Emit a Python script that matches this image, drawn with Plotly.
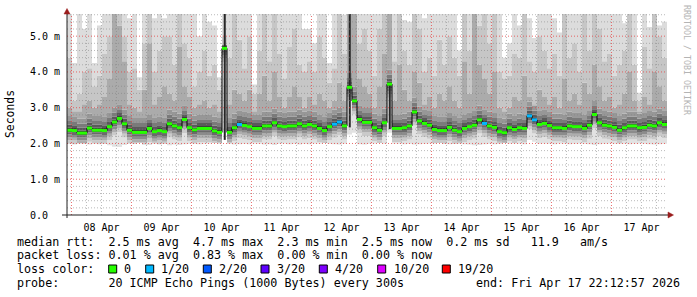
import numpy as np
import pandas as pd
import plotly.graph_objects as go

# ---------------- data (2-hour consolidated steps, values in ms) ----------------
START = "2026-04-07 22:12:57"
END = "2026-04-17 22:12:57"
STEP_HOURS = 2

median_ms = [
    2.37, 2.36, 2.29, 2.29, 2.43, 2.37, 2.37, 2.36, 2.47, 2.60, 2.70, 2.55,
    2.37, 2.31, 2.31, 2.31, 2.42, 2.33, 2.36, 2.33, 2.55, 2.49, 2.44, 2.67,
    2.44, 2.38, 2.42, 2.42, 2.42, 2.35, 2.31, 4.66, 2.31, 2.44, 2.53, 2.50,
    2.47, 2.42, 2.42, 2.49, 2.49, 2.58, 2.49, 2.47, 2.49, 2.49, 2.55, 2.49,
    2.53, 2.49, 2.42, 2.36, 2.47, 2.54, 2.60, 2.49, 3.57, 3.19, 2.67, 2.59,
    2.59, 2.44, 2.37, 2.58, 3.66, 2.42, 2.42, 2.44, 2.49, 2.88, 2.63, 2.56,
    2.51, 2.39, 2.36, 2.36, 2.45, 2.37, 2.33, 2.42, 2.47, 2.51, 2.66, 2.56,
    2.49, 2.45, 2.33, 2.30, 2.44, 2.39, 2.44, 2.42, 2.77, 2.66, 2.53, 2.56,
    2.50, 2.44, 2.44, 2.42, 2.49, 2.47, 2.47, 2.42, 2.51, 2.81, 2.58, 2.51,
    2.49, 2.45, 2.37, 2.44, 2.49, 2.49, 2.44, 2.45, 2.51, 2.49, 2.58, 2.53,
]

loss_20 = [
    0, 0, 0, 0, 0, 0, 0, 0, 0, 0, 0, 0,
    0, 0, 0, 0, 0, 0, 0, 0, 0, 0, 0, 0,
    0, 0, 0, 0, 0, 0, 0, 0, 0, 0, 1, 0,
    0, 0, 0, 0, 0, 0, 0, 0, 0, 0, 0, 0,
    0, 0, 0, 0, 0, 1, 1, 0, 0, 0, 0, 0,
    0, 0, 0, 0, 0, 0, 0, 0, 0, 0, 0, 0,
    0, 0, 0, 0, 0, 0, 0, 0, 0, 0, 0, 1,
    0, 0, 0, 0, 0, 0, 0, 0, 1, 1, 0, 0,
    0, 0, 0, 0, 0, 0, 0, 0, 0, 0, 0, 0,
    0, 0, 0, 0, 0, 0, 0, 0, 0, 0, 0, 0,
]

smoke_low = [
    1.99, 1.98, 2.00, 1.99, 1.97, 2.00, 1.98, 1.99, 1.95, 1.91, 1.90, 1.96,
    2.00, 1.99, 2.01, 1.97, 1.96, 2.00, 1.98, 1.99, 1.95, 1.97, 1.96, 1.98,
    1.99, 2.00, 1.98, 1.99, 2.00, 2.01, 2.00, 2.30, 2.00, 1.97, 1.98, 1.99,
    1.98, 2.00, 1.99, 1.97, 1.98, 1.96, 1.99, 2.00, 1.98, 1.99, 1.97, 1.99,
    1.98, 2.00, 2.00, 2.01, 1.99, 1.98, 1.97, 1.99, 2.25, 2.30, 1.98, 1.97,
    1.99, 2.00, 2.01, 1.99, 2.30, 2.00, 1.99, 1.98, 1.99, 1.97, 1.98, 1.99,
    2.00, 2.00, 2.01, 1.99, 1.98, 1.99, 2.00, 1.98, 1.97, 1.95, 1.96, 1.98,
    1.99, 1.98, 2.00, 2.01, 1.99, 2.00, 1.99, 1.98, 2.10, 2.05, 1.99, 2.00,
    1.99, 1.98, 2.00, 1.99, 1.98, 1.99, 2.00, 1.99, 1.98, 1.96, 1.98, 1.99,
    2.00, 1.99, 2.00, 1.99, 1.98, 1.99, 2.00, 1.99, 1.98, 1.97, 1.98, 1.99,
]

smoke_mid = [
    3.0, 2.9, 2.9, 3.1, 3.2, 3.0, 3.1, 3.3, 3.8, 5.7, 5.3, 4.3,
    3.1, 3.0, 2.9, 3.5, 4.8, 3.1, 3.3, 3.6, 3.4, 3.2, 4.7, 3.6,
    3.3, 3.0, 3.1, 3.2, 3.0, 3.1, 2.9, 4.75, 3.1, 3.5, 3.4, 3.2,
    3.5, 2.9, 3.4, 3.9, 3.2, 4.0, 3.3, 3.0, 3.3, 3.6, 3.3, 3.0,
    3.3, 3.1, 3.4, 3.2, 3.0, 3.2, 3.7, 3.2, 5.7, 5.7, 3.8, 3.6,
    3.4, 3.0, 3.6, 4.5, 5.7, 3.2, 4.2, 3.5, 3.2, 4.0, 3.7, 3.1,
    3.3, 3.0, 3.4, 3.2, 3.6, 3.2, 3.0, 4.3, 3.4, 5.7, 4.2, 3.8,
    3.4, 4.0, 3.0, 2.9, 3.0, 3.3, 3.2, 3.9, 3.3, 3.1, 3.5, 3.3,
    3.1, 3.3, 3.0, 3.8, 3.2, 3.4, 3.1, 3.7, 3.4, 4.2, 3.6, 3.2,
    3.3, 3.0, 3.1, 3.4, 4.0, 3.2, 2.9, 3.3, 3.1, 4.0, 3.6, 3.2,
]

smoke_upper = [
    4.4, 3.2, 3.4, 4.0, 4.1, 3.6, 3.9, 4.5, 5.0, 5.7, 5.7, 5.0,
    4.0, 4.1, 3.5, 4.8, 5.7, 4.0, 4.6, 5.0, 5.0, 4.2, 5.7, 4.8,
    4.4, 3.6, 4.0, 4.6, 3.9, 4.2, 3.5, 5.0, 4.4, 5.7, 4.9, 4.1,
    5.0, 3.4, 4.6, 5.7, 4.3, 5.7, 4.5, 3.8, 4.7, 5.2, 4.2, 4.0,
    4.3, 4.0, 5.0, 4.4, 3.7, 4.1, 5.7, 4.5, 5.7, 5.7, 4.8, 5.2,
    4.6, 3.9, 5.2, 5.7, 5.7, 4.3, 5.7, 4.6, 4.2, 5.7, 5.2, 4.0,
    4.4, 3.9, 4.9, 4.2, 5.0, 4.4, 3.9, 5.7, 4.6, 5.7, 5.3, 5.7,
    4.8, 5.7, 4.0, 3.8, 3.9, 4.5, 4.4, 5.7, 4.3, 4.0, 5.0, 4.6,
    4.1, 4.5, 3.9, 5.7, 4.4, 4.8, 4.0, 5.7, 4.6, 5.7, 5.2, 4.3,
    4.5, 3.9, 4.2, 4.6, 5.7, 4.2, 3.2, 4.7, 4.1, 5.7, 5.0, 4.4,
]

smoke_max = [
    5.7, 4.25, 5.7, 5.2, 5.7, 4.25, 5.3, 5.7, 5.7, 5.7, 5.7, 5.7,
    5.5, 5.7, 3.85, 5.7, 5.7, 5.5, 5.7, 5.5, 5.7, 5.7, 5.7, 5.7,
    5.7, 5.7, 5.0, 5.7, 5.4, 5.3, 3.85, 5.7, 5.7, 5.7, 5.7, 5.7,
    5.7, 3.65, 5.7, 5.7, 5.7, 5.7, 5.7, 5.7, 5.7, 5.7, 5.7, 5.2,
    5.2, 4.8, 5.7, 5.7, 4.25, 5.7, 5.7, 5.6, 5.7, 5.7, 5.7, 5.7,
    5.7, 5.7, 5.7, 5.7, 5.7, 5.7, 5.7, 5.45, 5.4, 5.7, 5.7, 5.5,
    5.7, 5.7, 5.7, 5.7, 5.7, 5.7, 4.6, 5.7, 5.7, 5.7, 5.7, 5.7,
    5.7, 5.7, 5.7, 4.4, 4.8, 5.7, 5.3, 5.7, 5.5, 4.95, 5.7, 5.7,
    5.7, 5.5, 5.1, 5.7, 5.7, 5.7, 5.7, 5.7, 5.7, 5.7, 5.7, 5.7,
    5.7, 5.7, 5.7, 5.36, 5.7, 5.7, 3.42, 5.7, 5.26, 5.7, 5.3, 5.4,
]

# dense dark smoke streaks (column index, bottom, top)
dark_cols = [31, 56, 64]
dark_low = [2.10, 2.45, 2.40]
dark_high = [5.70, 5.70, 3.66]

loss_levels = [0, 1, 2, 3, 4, 10, 19]
loss_labels = ["0", "1/20", "2/20", "3/20", "4/20", "10/20", "19/20"]
loss_colors = ["#26ff00", "#00b8ff", "#0059ff", "#5e00ff", "#7e00ff", "#dd00ff", "#ff0000"]

y_ticks = [0, 1, 2, 3, 4, 5]
y_ticktext = ["0.0\u00a0\u00a0", "1.0 m", "2.0 m", "3.0 m", "4.0 m", "5.0 m"]
Y_MAX = 5.62

legend_lines = [
    "median rtt:  2.5 ms avg  4.7 ms max  2.3 ms min  2.5 ms now  0.2 ms sd   11.9   am/s",
    "packet loss: 0.01 % avg  0.83 % max  0.00 % min  0.00 % now",
    "loss color:",
    "probe:       20 ICMP Echo Pings (1000 Bytes) every 300s",
]
end_text = "end: Fri Apr 17 22:12:57 2026"

# smoke shading style: offsets from the median (ms) and band greys
LOWER_OFFSETS = [0.38, 0.28, 0.20, 0.12, 0.06]          # below median
LOWER_SHADES = ["#e2e2e2", "#cacaca", "#aeaeae", "#8c8c8c", "#6a6a6a", "#4a4a4a"]
UPPER_OFFSETS = [0.07, 0.15, 0.26, 0.40]                 # above median
UPPER_SHADES = ["#3c3c3c", "#5a5a5a", "#7a7a7a", "#979797", "#ababab"]
TOP_SHADES = ["#c6c6c6", "#dcdcdc"]

# ---------------- geometry helpers ----------------
W, H = 697, 297
L, R, T, B = 67, 30, 14, 82
PW, PH = W - L - R, H - T - B


def px(x):
    return (x - L) / PW


def py(y):
    return (H - B - y) / PH


n = len(median_ms)
t0 = pd.Timestamp(START)
times = [t0 + pd.Timedelta(hours=STEP_HOURS * i) for i in range(n + 1)]


def ext(vals):
    vals = list(vals)
    return vals + [vals[-1]]


med = np.array(median_ms)
lo = np.array(smoke_low)
mid = np.array(smoke_mid)

edges = [lo]
for off in LOWER_OFFSETS:
    edges.append(np.clip(med - off, lo, med))
edges.append(med)
for off in UPPER_OFFSETS:
    edges.append(np.clip(med + off, med, mid))
edges.append(mid)
edges.append(np.array(smoke_upper))
edges.append(np.array(smoke_max))
shades = LOWER_SHADES + UPPER_SHADES + TOP_SHADES

fig = go.Figure()
common = dict(mode="lines", line=dict(width=0, shape="hv"), hoverinfo="skip", showlegend=False)
fig.add_trace(go.Scatter(x=times, y=ext(edges[0]), **common))
for e, col in zip(edges[1:], shades):
    fig.add_trace(go.Scatter(x=times, y=ext(e), fill="tonexty", fillcolor=col, **common))

# dark streaks
dx, dy = [], []
for c, dl, dh in zip(dark_cols, dark_low, dark_high):
    tc = times[c] + pd.Timedelta(hours=STEP_HOURS * 0.55)
    dx += [tc, tc, None]
    dy += [dl, dh, None]
fig.add_trace(go.Scatter(x=dx, y=dy, mode="lines", line=dict(color="#262626", width=2),
                         hoverinfo="skip", showlegend=False))

# grid (drawn over the smoke like rrdtool)
t_end = pd.Timestamp(END)
gx_minor, gy_minor, gx_major, gy_major = [], [], [], []
for tt in pd.date_range("2026-04-08 00:00", t_end, freq="6h"):
    if tt.hour == 0:
        gx_major += [tt, tt, None]; gy_major += [0, Y_MAX, None]
    else:
        gx_minor += [tt, tt, None]; gy_minor += [0, Y_MAX, None]
for k in range(1, int(Y_MAX / 0.2) + 1):
    v = round(k * 0.2, 2)
    if abs(v - round(v)) < 1e-6:
        gx_major += [t0, t_end, None]; gy_major += [v, v, None]
    else:
        gx_minor += [t0, t_end, None]; gy_minor += [v, v, None]
fig.add_trace(go.Scatter(x=gx_minor, y=gy_minor, mode="lines",
                         line=dict(color="rgba(130,130,130,0.55)", width=1, dash="1px,2px"),
                         hoverinfo="skip", showlegend=False))
fig.add_trace(go.Scatter(x=gx_major, y=gy_major, mode="lines",
                         line=dict(color="rgba(230,70,70,0.8)", width=1, dash="1px,2px"),
                         hoverinfo="skip", showlegend=False))

# median: black step connectors + coloured horizontal segments by loss
fig.add_trace(go.Scatter(x=times, y=ext(median_ms), mode="lines",
                         line=dict(color="#000000", width=1, shape="hv"),
                         hoverinfo="skip", showlegend=False))
for lvl, col in zip(loss_levels, loss_colors):
    sx, sy = [], []
    for i in range(n):
        if loss_20[i] == lvl:
            sx += [times[i], times[i + 1], None]
            sy += [median_ms[i], median_ms[i], None]
    if sx:
        fig.add_trace(go.Scatter(x=sx, y=sy, mode="lines", line=dict(color=col, width=3),
                                 hoverinfo="skip", showlegend=False))

MONO = "DejaVu Sans Mono"
fig.update_layout(
    width=W, height=H, margin=dict(l=L, r=R, t=T, b=B),
    paper_bgcolor="white", plot_bgcolor="white", showlegend=False,
)
fig.update_xaxes(
    type="date", range=[START, END], showgrid=False, zeroline=False, showline=False,
    tickmode="linear", tick0="2026-04-08", dtick=86400000, ticklabelmode="period",
    tickformat="%d %b", ticks="outside", ticklen=3, tickcolor="rgba(0,0,0,0)",
    tickfont=dict(family=MONO, size=10, color="#000"),
)
fig.update_yaxes(
    range=[0, Y_MAX], tickmode="array", tickvals=y_ticks, ticktext=y_ticktext,
    showgrid=False, zeroline=False, showline=False, ticks="outside", ticklen=4,
    tickcolor="rgba(0,0,0,0)", tickfont=dict(family=MONO, size=10, color="#000"),
)

shapes = []
AX = "#202020"
ARROW = "#9a1c1c"
shapes.append(dict(type="line", xref="paper", yref="paper", x0=px(67), x1=px(67), y0=py(218), y1=py(12),
                   line=dict(color=AX, width=1)))
shapes.append(dict(type="line", xref="paper", yref="paper", x0=px(62), x1=px(670), y0=py(215), y1=py(215),
                   line=dict(color=AX, width=1)))
shapes.append(dict(type="path", xref="paper", yref="paper",
                   path=f"M {px(67)} {py(8.5)} L {px(64)} {py(14)} L {px(70)} {py(14)} Z",
                   fillcolor=ARROW, line=dict(color=ARROW, width=0.5)))
shapes.append(dict(type="path", xref="paper", yref="paper",
                   path=f"M {px(673.5)} {py(215)} L {px(668)} {py(212)} L {px(668)} {py(218)} Z",
                   fillcolor=ARROW, line=dict(color=ARROW, width=0.5)))

annotations = []
LEG_FONT = dict(family=MONO, size=11.7, color="#000")
line_y = [241.5, 255.2, 269.0, 282.6]
for txt, yy in zip(legend_lines, line_y):
    annotations.append(dict(text=txt.replace(" ", "\u00a0"), xref="paper", yref="paper",
                            x=px(16), y=py(yy), xanchor="left", yanchor="middle",
                            showarrow=False, font=LEG_FONT, borderpad=0))
annotations.append(dict(text=end_text.replace(" ", "\u00a0"), xref="paper", yref="paper",
                        x=px(681), y=py(line_y[3]), xanchor="right", yanchor="middle",
                        showarrow=False, font=LEG_FONT, borderpad=0))

square_x = [108.7, 145.7, 203.3, 261.0, 319.3, 377.7, 442.3]
label_x = [123.3, 160.0, 217.7, 276.0, 334.3, 392.7, 457.3]
for sxp, lxp, lab, col in zip(square_x, label_x, loss_labels, loss_colors):
    shapes.append(dict(type="rect", xref="paper", yref="paper",
                       x0=px(sxp), x1=px(sxp + 8), y0=py(273), y1=py(265),
                       fillcolor=col, line=dict(color="#000", width=1)))
    annotations.append(dict(text=lab, xref="paper", yref="paper", x=px(lxp), y=py(line_y[2]),
                            xanchor="left", yanchor="middle", showarrow=False,
                            font=LEG_FONT, borderpad=0))

annotations.append(dict(text="Seconds", xref="paper", yref="paper", x=px(10), y=py(114),
                        xanchor="center", yanchor="middle", textangle=-90, showarrow=False,
                        font=dict(family=MONO, size=11.4, color="#000"), borderpad=0))
annotations.append(dict(text="RRDTOOL / TOBI OETIKER".replace(" ", "\u00a0"), xref="paper", yref="paper",
                        x=px(687), y=py(60), xanchor="center", yanchor="middle", textangle=90,
                        showarrow=False, font=dict(family=MONO, size=8.3, color="#b4b4b4"),
                        borderpad=0))

fig.update_layout(shapes=shapes, annotations=annotations)
fig.write_html("out.html")
